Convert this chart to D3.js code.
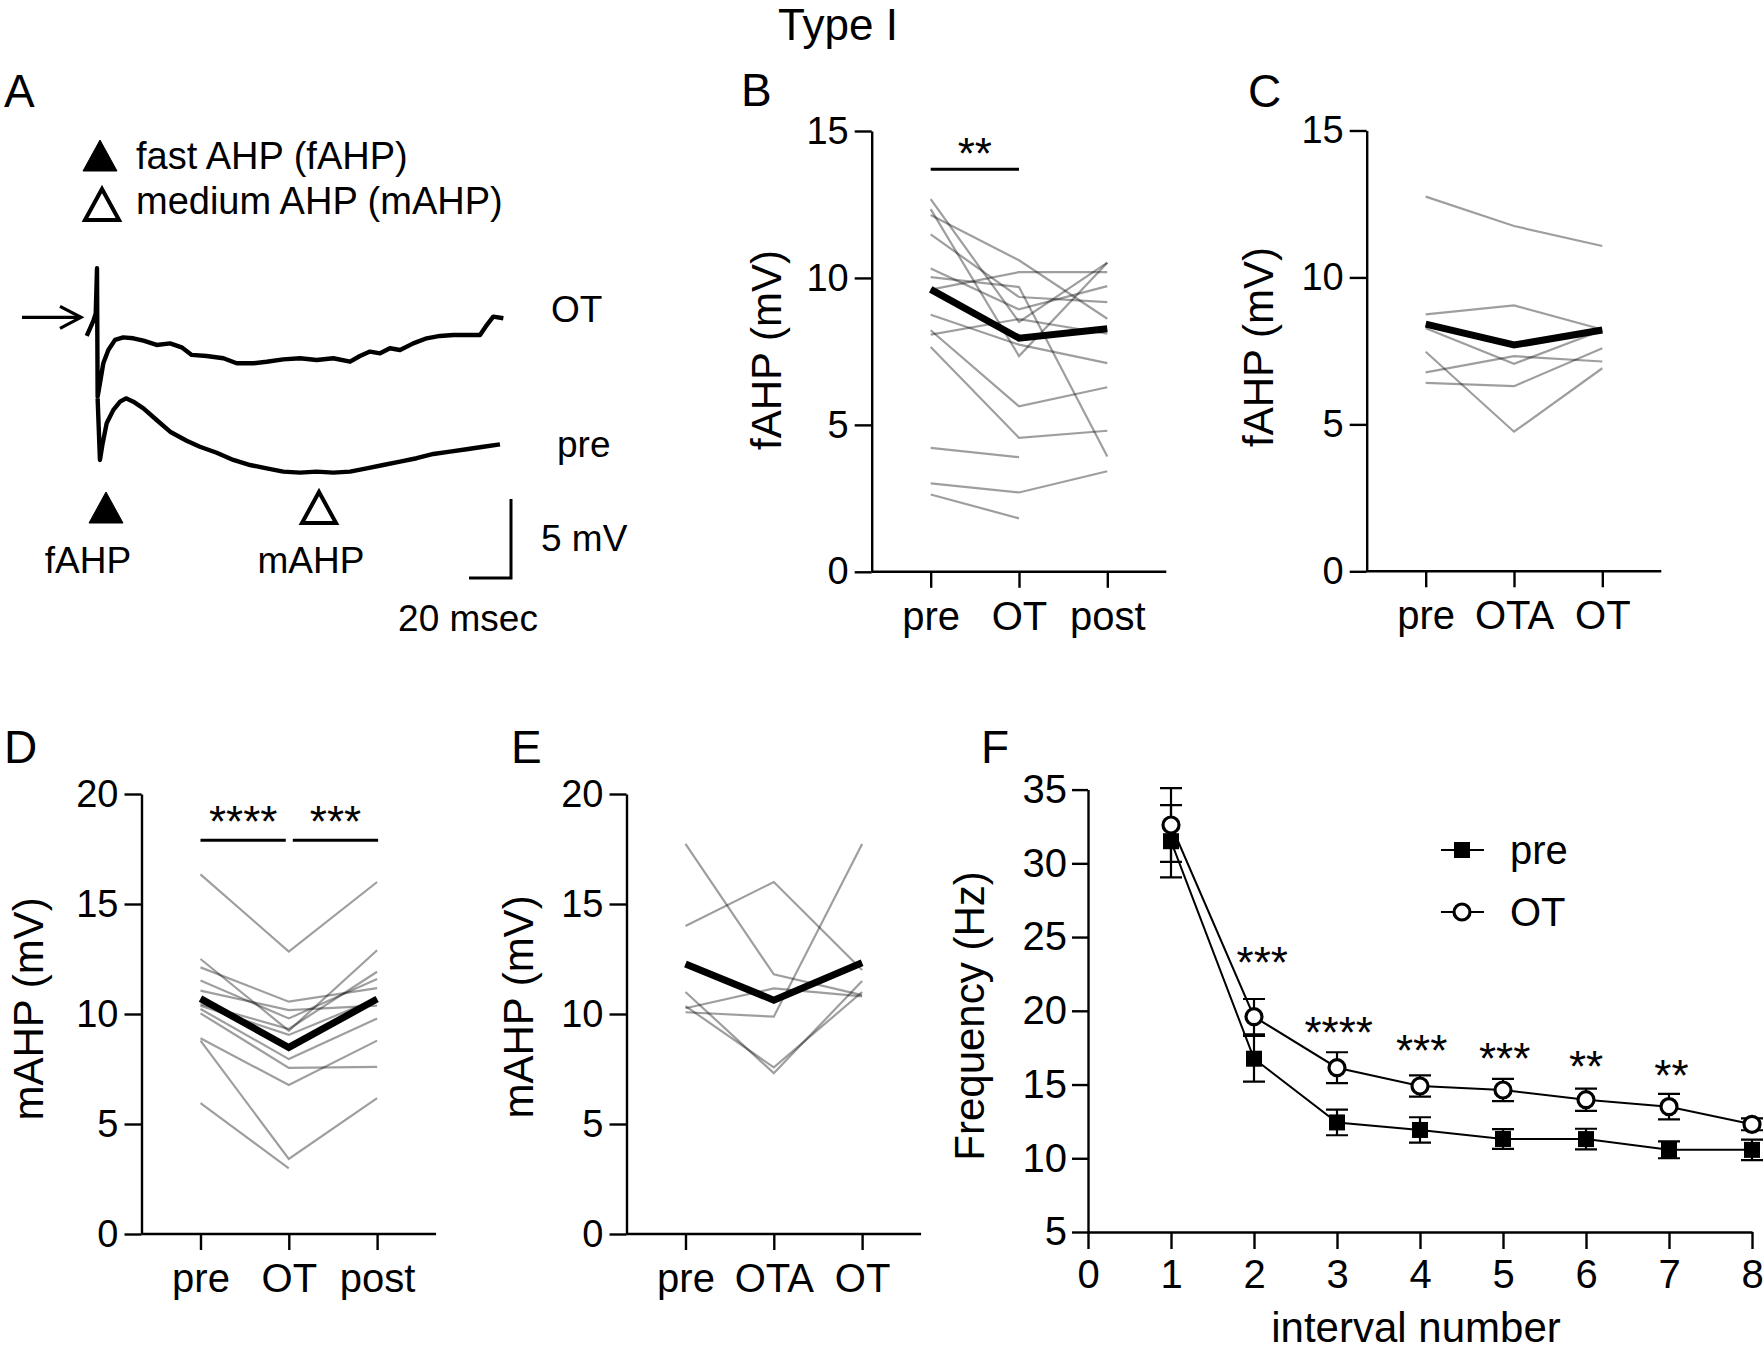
<!DOCTYPE html>
<html><head><meta charset="utf-8">
<script src="https://cdn.jsdelivr.net/npm/d3@7"></script>
<style>
body{margin:0;background:#fff}
svg{display:block}
text{font-family:"Liberation Sans",Arial,Helvetica,sans-serif;fill:#000}
</style>
</head><body>
<svg id="fig" width="1763" height="1353"></svg>
<script>
// ---------------- DATA ----------------
// Panel A: example traces (time in ms relative to spike, voltage in mV relative to OT baseline)
const otT = [-4.9,-3.3,-1.7,-0.6,0,0.3,1.4,3.0,5.4,8.6,12.5,17.3,22.1,28.4,34.8,40.3,45.1,52.2,60.2,66.5,74.4,80.8,88.7,96.7,104.6,112.5,120.5,125.2,130.0,134.8,139.5,144.3,150.6,157.0,163.3,169.7,176.0,182.4,185.6,188.7,193.5];
const otV = [-1.18,-0.70,-0.21,0.25,3.1,-5.02,-4.18,-2.91,-2.07,-1.43,-1.27,-1.33,-1.48,-1.75,-1.65,-1.90,-2.38,-2.45,-2.59,-2.91,-2.91,-2.81,-2.66,-2.59,-2.70,-2.59,-2.81,-2.45,-2.17,-2.28,-1.96,-2.07,-1.65,-1.33,-1.18,-1.12,-1.12,-1.12,-0.49,0.04,-0.06];
const preT = [0.3,1.4,2.7,4.6,7.8,11.0,13.8,17.3,22.1,28.4,34.8,42.7,49.0,57.0,64.9,72.9,80.8,88.7,96.7,104.6,112.5,120.5,128.4,136.3,144.3,152.2,160.2,168.1,176.0,184.0,191.9];
const preV = [-5.13,-9.03,-7.97,-6.71,-5.86,-5.34,-5.13,-5.34,-5.76,-6.50,-7.24,-7.81,-8.19,-8.57,-9.03,-9.35,-9.56,-9.77,-9.83,-9.77,-9.83,-9.77,-9.56,-9.35,-9.14,-8.92,-8.65,-8.50,-8.35,-8.19,-8.04];
const scaleBarMs = 20, scaleBarMv = 5;

// Panel B: fAHP pre / OT / post
const catsB = ["pre","OT","post"];
const linesB = [
  [12.68, 8.50, 10.52],[12.34, 7.34, 10.52],[12.14, 10.60, 8.61],[11.48, 9.35, 9.18],
  [10.32, 8.93, 9.72],[10.03, 9.69, 3.92],[9.60, 10.20, 10.20],[8.75, 7.73, 7.10],
  [8.22, 5.63, 6.28],[8.07, 8.60, 8.10],[7.65, 4.56, 4.80],[4.22, 3.90, null],
  [3.01, 2.70, 3.42],[2.63, 1.82, null]
];
const meanB = [9.61, 7.95, 8.27];

// Panel C: fAHP pre / OTA / OT
const catsC = ["pre","OTA","OT"];
const linesC = [
  [12.75, 11.75, 11.07],[8.74, 9.05, 8.23],[8.27, 7.06, 8.20],
  [6.77, 7.32, 7.14],[6.41, 6.30, 7.59],[7.47, 4.75, 6.91]
];
const meanC = [8.41, 7.70, 8.21];

// Panel D: mAHP pre / OT / post
const catsD = ["pre","OT","post"];
const linesD = [
  [16.35, 12.84, 16.0],[12.5, 9.24, 12.9],[12.12, 10.56, 11.18],[11.52, 9.80, 11.59],
  [11.06, 10.18, 10.38],[10.45, 9.32, 11.92],[10.38, 9.05, 10.70],[10.23, 7.95, 9.80],
  [10.03, 7.55, 7.60],[8.90, 6.77, 8.79],[8.79, 3.41, 6.18],[5.95, 2.98, null]
];
const meanD = [10.70, 8.48, 10.68];

// Panel E: mAHP pre / OTA / OT
const catsE = ["pre","OTA","OT"];
const linesE = [
  [17.73, 11.80, 10.86],[14.0, 16.0, 12.0],[11.0, 7.31, 11.5],
  [10.36, 7.57, 11.0],[10.26, 11.16, 10.8],[10.08, 9.88, 17.73]
];
const meanE = [12.27, 10.63, 12.33];

// Panel F: instantaneous frequency vs interval number
const intervals = [1,2,3,4,5,6,7,8];
const preFreq = [31.5, 16.75, 12.43, 11.92, 11.31, 11.30, 10.57, 10.57];
const preSem  = [2.45, 1.55, 0.87, 0.86, 0.67, 0.70, 0.57, 0.70];
const otFreq  = [32.6, 19.6, 16.14, 14.9, 14.63, 13.97, 13.5, 12.3];
const otSem   = [2.5, 1.2, 1.05, 0.72, 0.75, 0.75, 0.86, 0.4];
const sigFx = [2.1, 3.02, 4.02, 5.02, 6.0, 7.03];
const sigFy = [23.9, 19.16, 17.94, 17.41, 16.87, 16.27];
const sigFlabel = ["***","****","***","***","**","**"];

// ---------------- DRAW ----------------
const svg = d3.select("#fig");
svg.append("rect").attr("width",1763).attr("height",1353).attr("fill","#fff");
const FONT = '"Liberation Sans",Arial,Helvetica,sans-serif';

function txt(x, y, s, size, anchor) {
  return svg.append("text").attr("x", x).attr("y", y).attr("font-size", size)
    .attr("text-anchor", anchor || "start").text(s);
}

// Title and panel letters
txt(838, 40, "Type I", 44, "middle");
[["A",4,107],["B",741,106],["C",1248,107],["D",4,763],["E",511,763],["F",981,763]]
  .forEach(([l,x,y]) => txt(x, y, l, 46));

// ---------- Panel A ----------
(function(){
  const x = d3.scaleLinear().domain([0, scaleBarMs]).range([97, 139]);
  const y = d3.scaleLinear().domain([0, scaleBarMv]).range([317.3, 238.3]);
  const line = d3.line().x(d => x(d[0])).y(d => y(d[1]));
  const g = svg.append("g");
  g.append("path").datum(d3.zip(otT, otV)).attr("d", line)
    .attr("fill","none").attr("stroke","#000").attr("stroke-width",4.4).attr("stroke-linejoin","round");
  g.append("path").datum(d3.zip(preT, preV)).attr("d", line)
    .attr("fill","none").attr("stroke","#000").attr("stroke-width",4.4).attr("stroke-linejoin","round");
  // arrow
  g.append("line").attr("x1",22).attr("x2",81).attr("y1",y(0)).attr("y2",y(0))
    .attr("stroke","#000").attr("stroke-width",3.2);
  g.append("path").attr("d",`M60,${y(0)-11} L81,${y(0)} L60,${y(0)+11}`)
    .attr("fill","none").attr("stroke","#000").attr("stroke-width",3.2);
  // legend
  const tri = (cx, cy, filled) => g.append("path")
    .attr("d", `M${cx},${cy-16} L${cx+17},${cy+15} L${cx-17},${cy+15} Z`)
    .attr("fill", filled ? "#000" : "#fff").attr("stroke","#000")
    .attr("stroke-width", filled ? 1 : 4).attr("stroke-linejoin","miter");
  tri(100, 156, true); tri(102, 205, false);
  txt(136, 169, "fast AHP (fAHP)", 38);
  txt(136, 214, "medium AHP (mAHP)", 38);
  txt(551, 322, "OT", 37);
  txt(557, 457, "pre", 37);
  tri(106, 508, true); tri(319, 508, false);
  txt(88, 573, "fAHP", 37, "middle");
  txt(311, 573, "mAHP", 37, "middle");
  // scale bar
  const bx = 511, by = 578;
  g.append("path").attr("d",`M${bx},${by - (y(0)-y(scaleBarMv))} V${by} H${bx - (x(scaleBarMs)-x(0))}`)
    .attr("fill","none").attr("stroke","#000").attr("stroke-width",3);
  txt(541, 551, "5 mV", 37);
  txt(468, 631, "20 msec", 37, "middle");
})();

// ---------- paired panels ----------
function paired(cfg) {
  const x = d3.scalePoint().domain(cfg.cats).range([cfg.axisX, cfg.axisX + 294.6]).padding(0.668);
  const y = d3.scaleLinear().domain([0, cfg.yMax]).range([cfg.yBottom, cfg.yTop]);
  const g = svg.append("g");
  const ya = g.append("g").attr("transform", `translate(${cfg.axisX},0)`)
    .call(d3.axisLeft(y).tickValues(cfg.yTicks).tickSize(17).tickPadding(6).tickSizeOuter(0));
  const xa = g.append("g").attr("transform", `translate(0,${cfg.yBottom})`)
    .call(d3.axisBottom(x).tickSize(16).tickSizeOuter(0));
  [ya, xa].forEach(a => {
    a.attr("font-family", FONT).attr("font-size", 38);
    a.selectAll("path,line").attr("stroke","#000").attr("stroke-width",2.4);
    a.selectAll("text").attr("fill","#000");
  });
  xa.select(".domain").attr("d", `M${cfg.axisX},0H${cfg.axisX + 294.6}`);
  xa.selectAll("text").attr("y", 58).attr("dy", 0).attr("font-size", 40);
  const cats = cfg.cats;
  const line = d3.line().defined(d => d[1] != null).x(d => x(d[0])).y(d => y(d[1]));
  cfg.lines.forEach(vals => {
    g.append("path").datum(cats.map((c,i) => [c, vals[i]])).attr("d", line)
      .attr("fill","none").attr("stroke","#000").attr("stroke-opacity",0.38).attr("stroke-width",2.2);
  });
  g.append("path").datum(cats.map((c,i) => [c, cfg.mean[i]])).attr("d", line)
    .attr("fill","none").attr("stroke","#000").attr("stroke-width",7).attr("stroke-linejoin","miter");
  // y label
  svg.append("text").attr("transform", `translate(${cfg.labelX},${cfg.labelY}) rotate(-90)`)
    .attr("text-anchor","middle").attr("font-size", 42).text(cfg.ylabel);
  // significance
  (cfg.sig || []).forEach(s => {
    const x1 = x(s.from) + (s.padL || 0), x2 = x(s.to) - (s.padR || 0);
    g.append("line").attr("x1", x1).attr("x2", x2)
      .attr("y1", y(s.barY)).attr("y2", y(s.barY)).attr("stroke","#000").attr("stroke-width",3);
    g.append("text").attr("x", (x1 + x2) / 2).attr("y", y(s.starY) + 25)
      .attr("text-anchor","middle").attr("font-size", 44).text(s.label);
  });
  return {x, y};
}

paired({cats: catsB, lines: linesB, mean: meanB, axisX: 871.7, yBottom: 571.8, yTop: 131, yMax: 15,
  yTicks: [0,5,10,15], ylabel: "fAHP (mV)", labelX: 781, labelY: 350,
  sig: [{from:"pre", to:"OT", barY: 13.7, starY: 14.56, label: "**"}]});
paired({cats: catsC, lines: linesC, mean: meanC, axisX: 1366.7, yBottom: 571.3, yTop: 130.5, yMax: 15,
  yTicks: [0,5,10,15], ylabel: "fAHP (mV)", labelX: 1273, labelY: 347});
paired({cats: catsD, lines: linesD, mean: meanD, axisX: 141.5, yBottom: 1234, yTop: 794, yMax: 20,
  yTicks: [0,5,10,15,20], ylabel: "mAHP (mV)", labelX: 43, labelY: 1009,
  sig: [{from:"pre", to:"OT", barY: 17.9, starY: 19.2, label: "****", padR: 3},
        {from:"OT", to:"post", barY: 17.9, starY: 19.2, label: "***", padL: 4, padR: -1}]});
paired({cats: catsE, lines: linesE, mean: meanE, axisX: 626.5, yBottom: 1234, yTop: 794, yMax: 20,
  yTicks: [0,5,10,15,20], ylabel: "mAHP (mV)", labelX: 533, labelY: 1007});

// ---------- Panel F ----------
(function(){
  const x = d3.scaleLinear().domain([0, 8]).range([1088, 1752]);
  const y = d3.scaleLinear().domain([5, 35]).range([1232, 789.6]);
  const g = svg.append("g");
  const ya = g.append("g").attr("transform","translate(1088,0)")
    .call(d3.axisLeft(y).tickValues([5,10,15,20,25,30,35]).tickSize(16).tickPadding(5).tickSizeOuter(0));
  const xa = g.append("g").attr("transform","translate(0,1232)")
    .call(d3.axisBottom(x).tickValues(d3.range(0,9)).tickSize(17).tickSizeOuter(0));
  [ya, xa].forEach(a => {
    a.attr("font-family", FONT).attr("font-size", 40);
    a.selectAll("path,line").attr("stroke","#000").attr("stroke-width",2.4);
    a.selectAll("text").attr("fill","#000");
  });
  xa.selectAll("text").attr("y", 56).attr("dy", 0);
  svg.append("text").attr("transform","translate(984,1016) rotate(-90)")
    .attr("text-anchor","middle").attr("font-size",42).text("Frequency (Hz)");
  txt(1416, 1342, "interval number", 42, "middle");

  const line = d3.line().x(d => x(d[0])).y(d => y(d[1]));
  const series = [
    {m: otFreq, e: otSem, shape: "circle"},
    {m: preFreq, e: preSem, shape: "square"}
  ];
  series.forEach(s => {
    g.append("path").datum(intervals.map((v,i) => [v, s.m[i]])).attr("d", line)
      .attr("fill","none").attr("stroke","#000").attr("stroke-width",2);
  });
  series.forEach(s => {
    intervals.forEach((v,i) => {
      const cx = x(v), top = y(s.m[i] + s.e[i]), bot = y(s.m[i] - s.e[i]);
      g.append("path").attr("d", `M${cx},${top}V${bot}M${cx-11},${top}H${cx+11}M${cx-11},${bot}H${cx+11}`)
        .attr("stroke","#000").attr("stroke-width",2.2).attr("fill","none");
    });
  });
  const drawMarker = (shape, cx, cy) => {
    if (shape === "square")
      g.append("rect").attr("x", cx-8).attr("y", cy-8).attr("width",16).attr("height",16).attr("fill","#000");
    else
      g.append("circle").attr("cx", cx).attr("cy", cy).attr("r", 8).attr("fill","#fff")
        .attr("stroke","#000").attr("stroke-width",3.2);
  };
  series.forEach(s => intervals.forEach((v,i) => drawMarker(s.shape, x(v), y(s.m[i]))));
  sigFlabel.forEach((l,i) => {
    g.append("text").attr("x", x(sigFx[i])).attr("y", y(sigFy[i]) + 25)
      .attr("text-anchor","middle").attr("font-size",44).text(l);
  });
  // legend
  [["pre","square",850],["OT","circle",912]].forEach(([lab, shape, ly]) => {
    g.append("line").attr("x1",1441).attr("x2",1484).attr("y1",ly).attr("y2",ly)
      .attr("stroke","#000").attr("stroke-width",2);
    drawMarker(shape, 1462, ly);
    g.append("text").attr("x",1510).attr("y",ly+14).attr("font-size",40).text(lab);
  });
})();
</script>
</body></html>
